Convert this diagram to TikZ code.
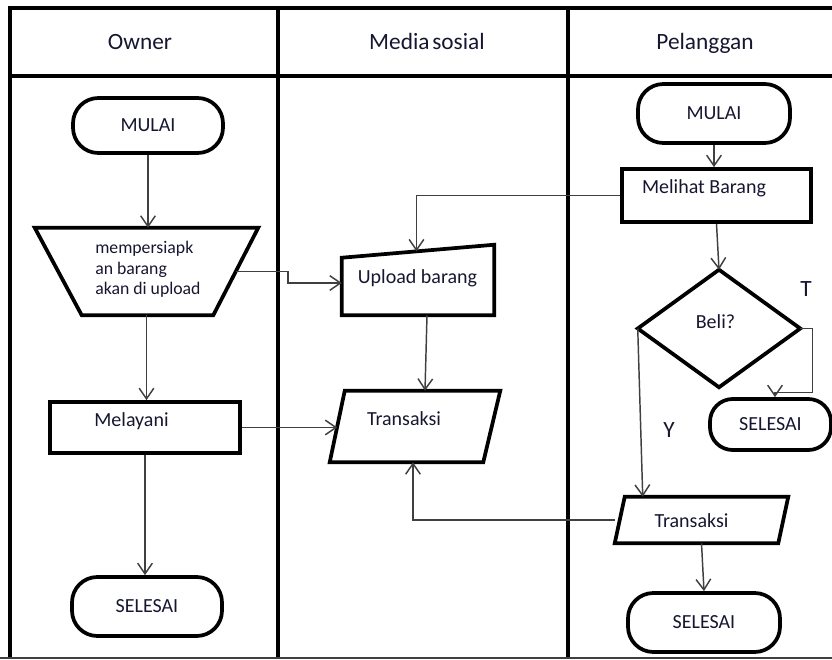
\documentclass[tikz,border=0pt]{standalone}
\usepackage{fontspec}
\setmainfont{Carlito}
\usetikzlibrary{arrows.meta,calc}
\definecolor{ink}{RGB}{22,22,48}
\definecolor{wire}{RGB}{64,64,64}
\begin{document}
\begin{tikzpicture}[x=0.75pt,y=-0.75pt,
  lbl/.style={font=\fontsize{15}{18}\selectfont, text=ink, inner sep=0pt},
  small/.style={font=\fontsize{13.3}{16}\selectfont, text=ink, inner sep=0pt},
  hdr/.style={font=\fontsize{17.5}{21}\selectfont, text=ink, inner sep=0pt},
  frame/.style={line width=3.2pt, black},
  outline/.style={draw=black, line width=2.8pt},
  termbox/.style={draw=black, line width=2.8pt, rounded corners=19pt,
    font=\fontsize{15}{18}\selectfont, text=ink},
  procbox/.style={draw=black, line width=2.8pt, rectangle, inner sep=0pt},
  shapebox/.style={rectangle, draw=none, inner sep=0pt},
  flow/.style={draw=wire, line width=1.1pt, -{Straight Barb[length=8pt,width=11pt]}}]

\useasboundingbox (0,0) rectangle (832,660);

% swimlane frame
\draw[frame] (832,8) -- (10,8) -- (10,658);
\draw[frame] (10,76) -- (832,76);
\draw[frame] (278,8) -- (278,658);
\draw[frame] (568,8) -- (568,658);
\draw[wire, line width=1.1pt] (0,658) -- (832,658);

% lane headings
\node[hdr, anchor=base] (hOwner) at (140,50) {Owner};
\node[hdr, anchor=base] (hMedia) at (427,50) {Media\hspace{0.12em}sosial};
\node[hdr, anchor=base] (hCust) at (705,50) {Pelanggan};

% ---- Owner lane ----
\node[termbox, minimum width=112.5pt, minimum height=41.25pt] (mulaiA) at (148,125.5) {MULAI};

\node[shapebox, minimum width=167.25pt, minimum height=65.25pt] (prep) at (146.5,271.5) {};
\draw[outline] (prep.north west) -- (prep.north east) -- ($(prep.south east)+(-45,0)$)
  -- ($(prep.south west)+(47,0)$) -- cycle;
\node[small, anchor=base west] (prep1) at (95,253) {mempersiapk};
\node[small, anchor=base west] (prep2) at (95,274) {an barang};
\node[small, anchor=base west] (prep3) at (95,294) {akan di upload};

\node[procbox, minimum width=142.5pt, minimum height=38.25pt] (melayani) at (145,427.5) {};
\node[lbl, anchor=base] (melayaniT) at (131.5,426) {Melayani};

\node[termbox, minimum width=112.5pt, minimum height=44.25pt] (selesaiA) at (147,606.5) {SELESAI};

% ---- Media sosial lane ----
\node[shapebox, minimum width=114pt, minimum height=52.5pt] (upload) at (418,280) {};
\coordinate (upNW) at ($(upload.north west)+(0,13)$);
\draw[outline] (upload.south west) -- (upNW) -- (upload.north east) -- (upload.south east) -- cycle;
\node[lbl, anchor=base] (uploadT) at (417.5,283) {Upload barang};
\coordinate (upTop) at ($(upNW)!0.49!(upload.north east)$);

\node[shapebox, minimum width=127.5pt, minimum height=53.25pt] (transB) at (415,426.5) {};
\draw[outline] (transB.south west) -- ($(transB.north west)+(15,0)$) -- (transB.north east)
  -- ($(transB.south east)+(-17,0)$) -- cycle;
\node[lbl, anchor=base] (transBT) at (404,425) {Transaksi};
\coordinate (transBL) at ($(transB.south west)!0.5!(transB.north west)+(7.5,0)$);

% ---- Pelanggan lane ----
\node[termbox, minimum width=114pt, minimum height=44.25pt] (mulaiC) at (714,113.5) {MULAI};

\node[procbox, minimum width=141.75pt, minimum height=39.75pt] (melihat) at (716.5,195.5) {};
\node[lbl, anchor=base] (melihatT) at (704,193) {Melihat Barang};

\node[shapebox, minimum width=121.5pt, minimum height=87.75pt] (beli) at (719,328.5) {};
\draw[outline] (beli.north) -- (beli.east) -- (beli.south) -- (beli.west) -- cycle;
\node[lbl, anchor=base] (beliT) at (715.5,328) {Beli?};

\node[termbox, rounded corners=17pt, minimum width=90.75pt, minimum height=38.25pt] (selesaiC) at (770.5,424.5) {SELESAI};

\node[shapebox, minimum width=129.75pt, minimum height=34.5pt] (transC) at (701.5,520) {};
\draw[outline] (transC.south west) -- ($(transC.north west)+(10,0)$) -- (transC.north east)
  -- ($(transC.south east)+(-10,0)$) -- cycle;
\node[lbl, anchor=base] (transCT) at (691.5,527) {Transaksi};

\node[termbox, minimum width=114pt, minimum height=44.25pt] (selesaiD) at (704,622.5) {SELESAI};

\node[hdr, anchor=base] (tLbl) at (806,296) {T};
\node[hdr, anchor=base] (yLbl) at (669,437) {Y};

% ---- connectors ----
\draw[flow] (mulaiA.south) -- (mulaiA.south |- prep.north);
\draw[flow] (prep.south) -- (prep.south |- melayani.north);
\draw[flow] (melayani.south) -- (melayani.south |- selesaiA.north);
\coordinate (prepR) at ($(prep.north east)!0.5!(prep.south east)+(-22.5,0)$);
\draw[flow] (prepR) -- ++(52,0) |- ($(upload.west)+(0,3)$);
\draw[flow] (melayani.east) -- (melayani.east -| transBL);

\draw[flow] (melihat.west) -| (upTop);
\draw[flow] ($(upload.south)+(9,0)$) -- ($(transB.north)+(10,0)$);

\draw[flow] (mulaiC.south) -- (mulaiC.south |- melihat.north);
\draw[flow] (melihat.south) -- (beli.north);
\draw[flow] (beli.east) -- ++(12,0) -- ++(0,64) -| ($(selesaiC.north)+(4.5,0)$);
\draw[flow] (beli.west) -- ($(transC.north west)+(28,0)$);
\draw[flow] (transC.west) -| ($(transB.south)+(-2,0)$);
\draw[flow] (transC.south) -- (selesaiD.north);
\end{tikzpicture}
\end{document}
